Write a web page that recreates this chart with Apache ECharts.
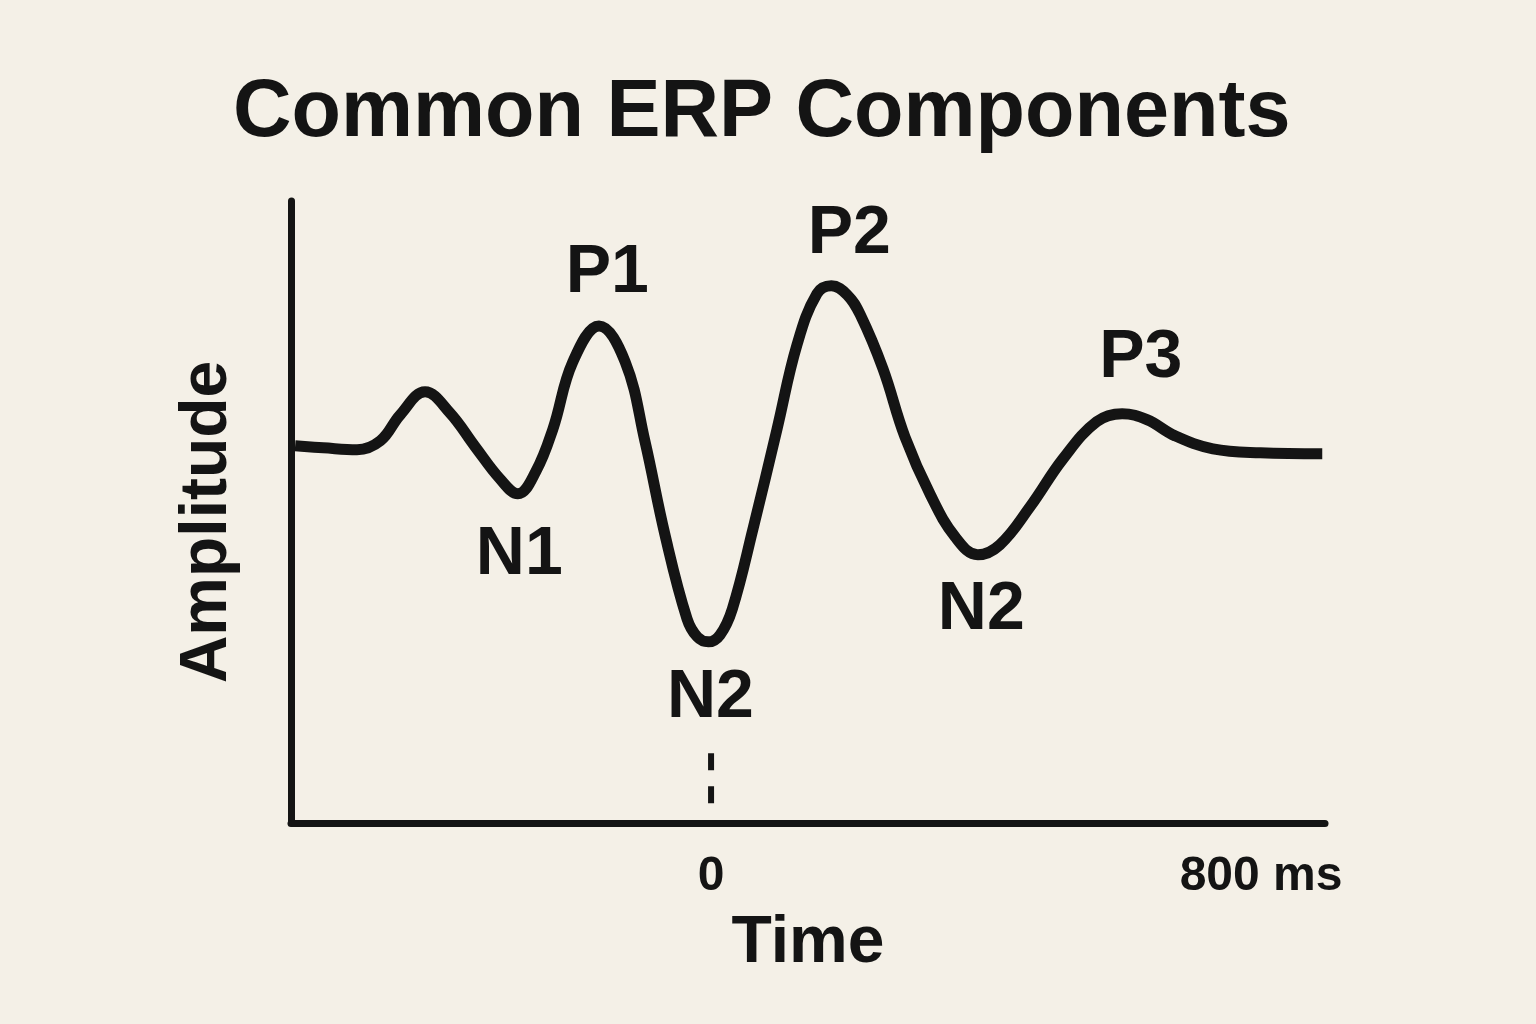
<!DOCTYPE html>
<html>
<head>
<meta charset="utf-8">
<script src="https://cdn.jsdelivr.net/npm/echarts@6/dist/echarts.min.js"></script>
<style>
html,body{margin:0;padding:0;background:#f4f0e7;}
#chart{width:1536px;height:1024px;}
</style>
</head>
<body>
<div id="chart"></div>
<script>
// Time (ms) and amplitude (arbitrary units) of the waveform
const timeMs = [-605,-564,-515,-481,-452,-416,-380,-343,-307,-281,-255,-230,-201,-163,-125,-96,-67,-35,-20,-4,13,31,61,96,125,154,175,198,217,250,282,319,355,388,420,464,512,561,598,634,675,730,799,889];
const amplitude = [0.16,0.08,0.00,0.36,1.41,2.33,1.49,0.12,-1.17,-1.77,-0.88,0.84,3.54,4.98,3.54,0.32,-3.42,-6.79,-7.52,-7.72,-7.44,-6.39,-3.18,0.84,4.22,6.27,6.59,6.23,5.43,3.26,0.52,-1.81,-3.50,-4.22,-3.82,-2.29,-0.36,1.13,1.45,1.21,0.56,0.04,-0.12,-0.16];

// Component labels (name, label position)
const componentNames = ['P1','N1','P2','N2','N2','P3'];
const componentMs = [-151,-279,201,-1,393,625];
const componentAmp = [7.11,-4.22,8.68,-10.0,-6.43,3.66];

// Stimulus-onset dashed marker
const markerMs = [0,0];
const markerAmp = [-12.2,-14.35];

// Axis tick labels
const tickValues = [0,800];
const tickLabels = ['0','800 ms'];

const ink = '#141414';
const font = '"Liberation Sans", Arial, sans-serif';

const chart = echarts.init(document.getElementById('chart'));
chart.setOption({
  animation:false,
  backgroundColor:'#f4f0e7',
  title:{
    text:'Common ERP Components',
    left:228, top:68,
    textStyle:{fontFamily:font,fontSize:81,fontWeight:'bold',color:ink}
  },
  grid:{left:291,right:211,top:201,bottom:201,containLabel:false},
  xAxis:{
    type:'value', min:-611, max:893,
    name:'Time', nameLocation:'middle', nameGap:88,
    nameTextStyle:{fontFamily:font,fontSize:66,fontWeight:'bold',color:ink},
    axisLine:{show:true,onZero:false,lineStyle:{color:ink,width:7}},
    axisTick:{show:false},
    splitLine:{show:false},
    axisLabel:{
      show:true, customValues:tickValues, margin:30,
      fontFamily:font, fontSize:48, fontWeight:'bold', color:ink,
      formatter:function(v){const i=tickValues.indexOf(v);return i>=0?tickLabels[i]:'';}
    }
  },
  yAxis:{
    type:'value', min:-15, max:10,
    name:'Amplitude', nameLocation:'middle', nameGap:50,
    nameTextStyle:{fontFamily:font,fontSize:66,fontWeight:'bold',color:ink,padding:[0,20,0,0]},
    axisLine:{show:true,onZero:false,lineStyle:{color:ink,width:7}},
    axisTick:{show:false},
    axisLabel:{show:false},
    splitLine:{show:false}
  },
  series:[
    {
      type:'line',
      data:timeMs.map((t,i)=>[t,amplitude[i]]),
      smooth:0.4,
      showSymbol:false,
      lineStyle:{color:ink,width:11,join:'round'},
      silent:true
    },
    {
      type:'line',
      data:markerMs.map((t,i)=>[t,markerAmp[i]]),
      showSymbol:false,
      lineStyle:{color:ink,width:6,type:[17,16]},
      silent:true
    },
    {
      type:'scatter',
      symbolSize:0,
      itemStyle:{opacity:1},
      data:componentNames.map((n,i)=>({name:n,value:[componentMs[i],componentAmp[i]]})),
      label:{
        show:true, position:'inside', formatter:'{b}',
        fontFamily:font, fontSize:68, fontWeight:'bold', color:ink
      },
      silent:true
    }
  ]
});
</script>
</body>
</html>
